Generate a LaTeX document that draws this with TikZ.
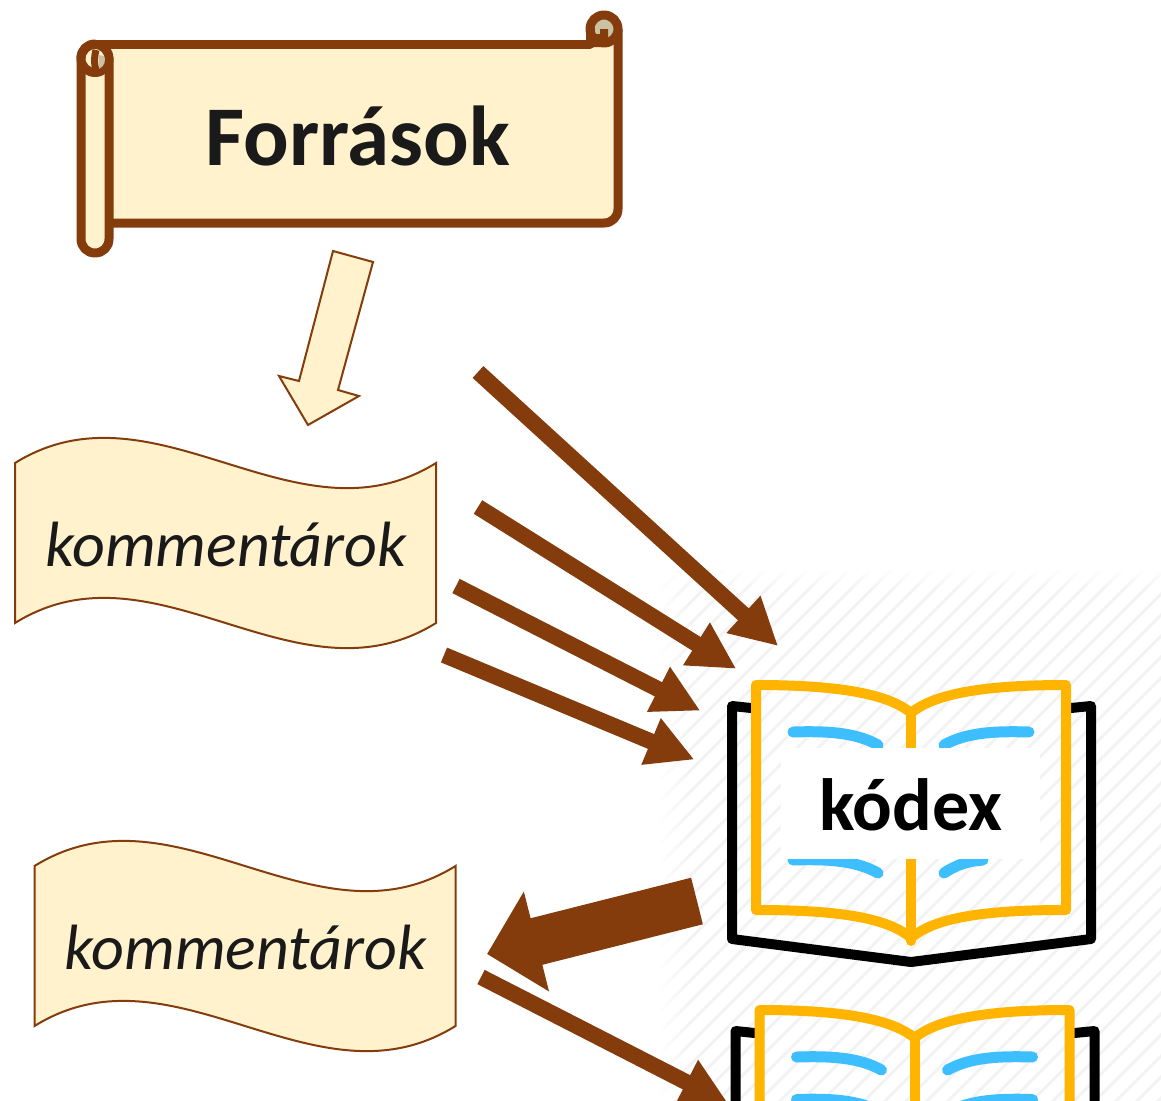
\documentclass[tikz,border=0pt]{standalone}
\usepackage{fontspec}
\setmainfont{Carlito}
\usetikzlibrary{arrows.meta,fadings}
\definecolor{brn}{HTML}{843C0C}
\definecolor{cream}{HTML}{FFF2CC}
\definecolor{curl}{HTML}{CDC1A3}
\definecolor{gold}{HTML}{FFB400}
\definecolor{sky}{HTML}{3DBFFF}
\definecolor{hatch}{HTML}{F3F3F3}
\definecolor{ink}{HTML}{1A1A1A}
\tikzset{
  scrollline/.style={draw=brn,line width=9pt,line join=round,line cap=round},
  wave/.style={draw=brn,fill=cream,line width=2pt,line join=miter},
  thinarrow/.style={draw=brn,line width=16pt,shorten >=-1.5pt,-{Triangle[length=47pt,width=47pt]}},
  fatarrow/.style={draw=brn,line width=48pt,-{Triangle[length=51pt,width=100pt]}},
  bookblack/.style={draw=black,line width=10pt,line join=round,line cap=round},
  bookgold/.style={draw=gold,line width=10pt,line join=round,line cap=round},
  bookblue/.style={draw=sky,line width=11pt,line cap=round},
  wavetext/.style={font=\fontsize{64}{64}\selectfont\itshape,text=ink,inner sep=0pt},
  hatchline/.style={draw=hatch,line width=3pt},
  pics/openbook/.style={code={
    \draw[bookblack] (751,708) -- (732,706) -- (732,939) -- (911,962) -- (1091,939) -- (1091,706) -- (1071,708);
    \draw[bookgold] (911,713) .. controls (885,691) and (825,685) .. (756,685) -- (756,910)
       .. controls (825,910) and (885,915) .. (911,938);
    \draw[bookgold] (911,713) .. controls (937,691) and (997,685) .. (1066,685) -- (1066,910)
       .. controls (997,910) and (937,915) .. (911,938);
    \draw[bookgold] (911,713) -- (911,941);
    \foreach \r in {0,42.5,85}{
      \draw[bookblue] (793,732+\r) .. controls (825,731+\r) and (855,732+\r) .. (878,745+\r);
      \draw[bookblue] (1029,732+\r) .. controls (997,731+\r) and (967,732+\r) .. (944,745+\r);
    }
    \draw[bookblue] (793,860) .. controls (825,859) and (855,860) .. (878,873);
    \draw[bookblue] (983,860) .. controls (968,861) and (956,865) .. (944,873);
  }}
}
\begin{document}
\begin{tikzpicture}[x=1pt,y=-1pt]
\useasboundingbox (0,0) rectangle (1161,1100);
% hatched ground
\begin{scope}
  \clip (660,570) rectangle (1161,1100);
  \foreach \k in {0,...,52} {
    \draw[hatchline] ({660+\k*21},570) -- ({660+\k*21-540},1110);
  }
\end{scope}
\fill[white,path fading=east] (658,568) rectangle (690,1100);
\fill[white,path fading=south] (658,568) rectangle (1161,590);
% scroll
\path[fill=cream] (95,44) -- (618,44) -- (618,209) .. controls (618,217) and (612,223) .. (604,223) -- (109,223) -- (95,223) -- cycle;
\draw[scrollline] (95,44) -- (590,44);
\draw[scrollline] (618,29) -- (618,209) .. controls (618,217) and (612,223) .. (604,223) -- (109,223);
\draw[scrollline,fill=curl] (604,29) circle[radius=14];
\draw[scrollline] (590,29) -- (590,44);
\fill[brn] (593,34) -- (600,34) -- (600,29) -- (608,29) -- (608,42) -- (600,47) -- (586,47) -- (586,36) -- cycle;
\draw[scrollline,fill=cream] (81,58) -- (81,239) .. controls (81,247) and (87,253) .. (95,253) .. controls (103,253) and (109,247) .. (109,239) -- (109,58) -- cycle;
\draw[scrollline,fill=cream] (95,58.5) circle[radius=14];
\draw[scrollline] (81,58) .. controls (81,50) and (87,44) .. (95,44);
\fill[curl] (99,55) -- (104,56) .. controls (106,60) and (105,66) .. (99,69) -- cycle;
\draw[draw=brn,line width=7pt] (96,50) .. controls (94,58) and (94,64) .. (96,70);
\node[font=\fontsize{85}{85}\selectfont\bfseries,text=ink,inner sep=0pt] (forras) at (358,136) {Források};
% hollow arrow
\draw[draw=brn,fill=cream,line width=2pt,line join=miter] (333,251) -- (373,262) -- (338,390) -- (359,396) -- (308,425) -- (279,376) -- (299,381) -- cycle;
% waves
\draw[wave] (15,463) .. controls (155,376) and (296,550) .. (436,463) -- (436,623) .. controls (296,710) and (155,536) .. (15,623) -- cycle;
\node[wavetext] (komm1) at (226,545) {kommentárok};
\begin{scope}[shift={(19.5,403)}]
\draw[wave] (15,463) .. controls (155,376) and (296,550) .. (436,463) -- (436,623) .. controls (296,710) and (155,536) .. (15,623) -- cycle;
\node[wavetext] (komm2) at (226,545) {kommentárok};
\end{scope}
% books
\pic at (0,0) {openbook};
\pic at (3.5,325) {openbook};
\fill[white] (781,748) rectangle (1040,859);
\node[font=\fontsize{74}{74}\selectfont\bfseries,text=black,inner sep=0pt] (kodex) at (911,805) {kódex};
% arrows
\coordinate (a1s) at (478,372); \coordinate (a1e) at (777,645);
\coordinate (a2s) at (478,507); \coordinate (a2e) at (735,668);
\coordinate (a3s) at (456,586); \coordinate (a3e) at (699,710);
\coordinate (a4s) at (444,655); \coordinate (a4e) at (693,759);
\coordinate (a5s) at (697,901); \coordinate (a5e) at (487,954);
\coordinate (a6s) at (481,977); \coordinate (a6e) at (727,1103);
\draw[thinarrow] (a1s) -- (a1e);
\draw[thinarrow] (a2s) -- (a2e);
\draw[thinarrow] (a3s) -- (a3e);
\draw[thinarrow] (a4s) -- (a4e);
\draw[fatarrow] (a5s) -- (a5e);
\draw[thinarrow] (a6s) -- (a6e);
\end{tikzpicture}
\end{document}
